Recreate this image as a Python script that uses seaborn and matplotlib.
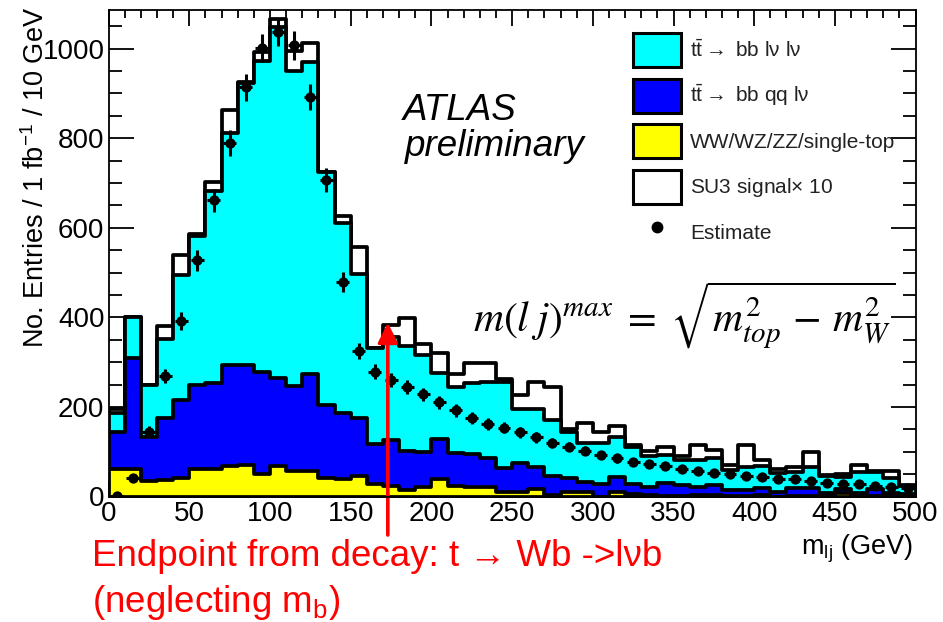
import numpy as np
import pandas as pd
import matplotlib
matplotlib.use("Agg")
import matplotlib.pyplot as plt
import seaborn as sns
from matplotlib.patches import Patch
from matplotlib.lines import Line2D

# ---------------- data (m_lj histogram, 10 GeV bins, 0-500 GeV) ----------------
bin_edges = np.arange(0, 510, 10)
bin_centers = bin_edges[:-1] + 5

# stacked levels (cumulative tops of each stack layer)
stack_other = [61, 61, 35, 37, 42, 61, 61, 68, 70, 50, 67, 58, 58, 42, 38,
               46, 28, 24, 15, 21, 38, 24, 21, 21, 11, 10, 16, 3, 11, 10,
               0, 11, 5, 4, 2, 1, 4, 4, 1, 1, 4, 0, 1, 1, 1, 7, 1, 1, 1, 1]
stack_semilep = [143, 309, 132, 175, 216, 249, 253, 294, 294, 277, 264, 247, 274, 204, 186,
                 175, 117, 126, 102, 99, 128, 97, 94, 85, 63, 74, 65, 46, 41, 33,
                 28, 44, 28, 22, 30, 26, 22, 26, 15, 15, 18, 9, 18, 18, 8, 17, 8, 16, 8, 5]
stack_dilep = [187, 400, 249, 351, 495, 581, 683, 812, 923, 973, 1048, 949, 969, 724, 611,
               497, 331, 357, 335, 316, 275, 245, 254, 256, 255, 195, 195, 171, 143, 119,
               119, 132, 111, 90, 93, 82, 82, 85, 59, 65, 67, 52, 55, 65, 46, 43, 55, 55, 41, 23]
stack_signal = [195, 400, 249, 381, 538, 586, 701, 862, 925, 993, 1067, 994, 1013, 724, 626,
                558, 331, 383, 398, 340, 321, 274, 297, 297, 262, 227, 256, 244, 150, 163,
                145, 157, 115, 102, 111, 90, 115, 104, 70, 115, 82, 62, 65, 100, 48, 50, 70, 57, 57, 25]
estimate = [2, 41, 145, 269, 392, 527, 661, 789, 914, 1001, 1037, 1007, 892, 706, 479,
            324, 279, 260, 244, 228, 210, 192, 175, 162, 154, 143, 132, 119, 111, 102,
            93, 85, 78, 73, 68, 62, 58, 52, 50, 46, 43, 39, 38, 35, 31, 29, 27, 24, 22, 20]

x_ticks = [0, 50, 100, 150, 200, 250, 300, 350, 400, 450, 500]
y_ticks = [0, 200, 400, 600, 800, 1000]
legend_labels = [r"t$\bar{\rm t}\rightarrow$ bb lν lν",
                 r"t$\bar{\rm t}\rightarrow$ bb qq lν",
                 "WW/WZ/ZZ/single-top",
                 r"SU3 signal$\times$ 10",
                 "Estimate"]
endpoint_x = 173
endpoint_y = 388

# ---------------- style ----------------
sns.set_style("ticks")
plt.rcParams['font.family'] = ['Liberation Sans', 'DejaVu Sans']
plt.rcParams['mathtext.fontset'] = 'custom'
plt.rcParams['mathtext.rm'] = 'Liberation Sans'
plt.rcParams['mathtext.it'] = 'Liberation Sans:italic'
plt.rcParams['mathtext.bf'] = 'Liberation Sans:bold'
for k in ['text.color', 'axes.labelcolor', 'xtick.color', 'ytick.color', 'axes.edgecolor']:
    plt.rcParams[k] = 'black'

W, H = 943, 622
fig = plt.figure(figsize=(W / 100, H / 100), dpi=100)
x0, x1, ytop, ybot = 108.6, 915.6, 10.0, 496.5
ax = fig.add_axes([x0 / W, (H - ybot) / H, (x1 - x0) / W, (ybot - ytop) / H])

layers = [(stack_signal, '#ffffff'), (stack_dilep, '#00ffff'),
          (stack_semilep, '#0000ff'), (stack_other, '#ffff00')]
for vals, col in layers:
    df = pd.DataFrame({"m": bin_centers.astype(float), "w": np.asarray(vals, dtype=float)})
    sns.histplot(data=df, x="m", weights="w", binwidth=10, binrange=(0, 500),
                 element='step', fill=True, color=col, edgecolor='black',
                 linewidth=2.7, alpha=1, ax=ax)

est = np.array(estimate, dtype=float)
ax.errorbar(bin_centers, est, yerr=np.sqrt(est), xerr=4, fmt='none',
            ecolor='black', elinewidth=2.2, capsize=0, zorder=5)
sns.scatterplot(x=bin_centers, y=est, color='black', s=55, edgecolor='black',
                linewidth=0, zorder=6, ax=ax, legend=False)

ax.set_xlim(0, 500)
ax.set_ylim(0, 1086)
ax.set_xticks(x_ticks)
ax.set_yticks(y_ticks)
ax.set_xticks(np.arange(0, 501, 10), minor=True)
ax.set_yticks(np.arange(0, 1086, 50), minor=True)
ax.tick_params(which='both', direction='in', top=True, right=True,
               labelsize=20, width=1.3, pad=3, colors='black')
ax.tick_params(axis='y', which='major', length=18)
ax.tick_params(axis='y', which='minor', length=9.5)
ax.tick_params(axis='x', which='major', length=11.5)
ax.tick_params(axis='x', which='minor', length=5.8)
for s in ax.spines.values():
    s.set_linewidth(1.3)
    s.set_zorder(10)

ax.set_ylabel("No. Entries / 1 fb$^{-1}$ / 10 GeV", fontsize=19.5, loc='top')
ax.yaxis.set_label_coords(-0.073, 1.006)
ax.set_xlabel(r"m$_{\rm lj}$ (GeV)", fontsize=19.5, loc='right')
ax.xaxis.set_label_coords(0.997, -0.075)

# ATLAS label
fig.text(403 / W, 1 - 120 / H, "ATLAS", fontsize=26.5, style='italic', va='baseline')
fig.text(405 / W, 1 - 156 / H, "preliminary", fontsize=26.5, style='italic', va='baseline')

# formula
fig.text(473 / W, 1 - 332 / H,
         r"$m(l\;j)^{max}\;=\;\sqrt{m_{top}^{2}\,-\,m_{W}^{2}}$",
         fontsize=30, math_fontfamily='stix', va='baseline')

# red endpoint arrow
ax.annotate("", xy=(endpoint_x, endpoint_y), xytext=(endpoint_x, -86),
            xycoords='data', textcoords='data', annotation_clip=False,
            arrowprops=dict(arrowstyle='-|>,head_length=0.6,head_width=0.3',
                            mutation_scale=20, color='#ff0000', lw=2.6,
                            shrinkA=0, shrinkB=0), zorder=8)

fig.text(92 / W, 1 - 566 / H, "Endpoint from decay: t → Wb ->lνb",
         fontsize=26.5, color='#ff0000', va='baseline')
fig.text(92 / W, 1 - 612 / H, r"(neglecting m$_{\rm b}$)",
         fontsize=26.5, color='#ff0000', va='baseline')

# legend
handles = [Patch(facecolor='#00ffff', edgecolor='black', linewidth=2.2),
           Patch(facecolor='#0000ff', edgecolor='black', linewidth=2.2),
           Patch(facecolor='#ffff00', edgecolor='black', linewidth=2.2),
           Patch(facecolor='#ffffff', edgecolor='black', linewidth=2.2),
           Line2D([], [], marker='o', color='black', linestyle='none', markersize=7.5)]
leg = fig.legend(handles, legend_labels, loc='upper left',
                 bbox_to_anchor=(633 / W, 1 - 33 / H), frameon=False, fontsize=15,
                 handlelength=2.3, handleheight=2.14, labelspacing=0.55,
                 handletextpad=0.43, borderpad=0, borderaxespad=0)
for t in leg.get_texts():
    t.set_color('#222222')

fig.savefig("out.png", dpi=100)
